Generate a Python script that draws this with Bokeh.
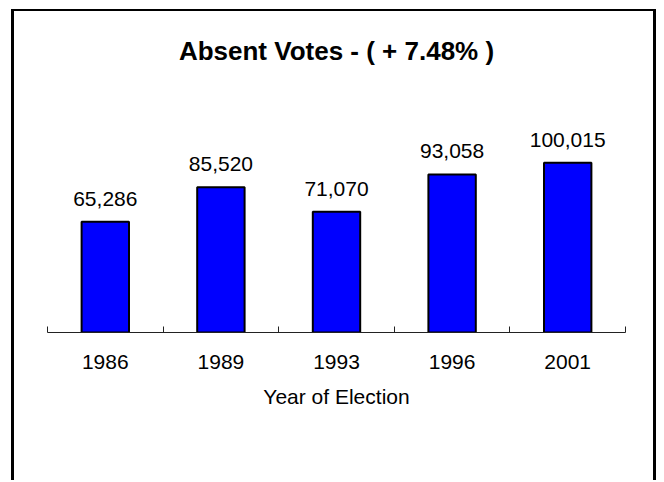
from bokeh.plotting import figure
from bokeh.models import ColumnDataSource, Range1d, FixedTicker
from bokeh.core.properties import value
from bokeh.embed import file_html
from bokeh.resources import INLINE

years = ["1986", "1989", "1993", "1996", "2001"]
votes = [65286, 85520, 71070, 93058, 100015]
title_text = "Absent Votes - ( + 7.48% )"
x_title = "Year of Election"

xs = [i + 0.5 for i in range(len(years))]
src = ColumnDataSource(dict(
    x=xs, top=votes, label=[f"{v:,}" for v in votes]))

FONT = "Liberation Sans"

p = figure(width=645, height=471, output_backend="svg", toolbar_location=None,
           x_range=Range1d(0, len(years)), y_range=Range1d(0, 154300),
           min_border_left=33, min_border_right=34, min_border_top=59,
           min_border_bottom=150, y_axis_location=None)
p.styles = {"border-top": "2px solid black", "border-left": "3px solid black",
            "border-right": "3px solid black", "margin-left": "11px",
            "margin-top": "9px"}
p.outline_line_color = None
p.grid.visible = False
p.background_fill_color = "white"
p.border_fill_color = "white"

p.title.text = title_text
p.title.text_font = FONT
p.title.text_font_size = "26px"
p.title.text_font_style = "bold"
p.title.align = "center"
p.title.text_color = "black"

p.vbar(x="x", top="top", width=0.41, bottom=0, source=src,
       fill_color="#0000FF", line_color="black", line_width=2)
p.text(x="x", y="top", text="label", source=src, y_offset=-23,
       text_align="center", text_baseline="alphabetic",
       text_font=value(FONT), text_font_size="21px", text_color="black")

ax = p.xaxis[0]
ax.ticker = FixedTicker(ticks=xs, minor_ticks=list(range(len(years) + 1)))
ax.major_label_overrides = {x: y for x, y in zip(xs, years)}
ax.major_tick_in = 0
ax.major_tick_out = 0
ax.minor_tick_in = 6
ax.minor_tick_out = 0
ax.minor_tick_line_color = "#222222"
ax.axis_line_color = "#222222"
ax.major_label_text_font = FONT
ax.major_label_text_font_size = "21px"
ax.major_label_text_color = "black"
ax.major_label_standoff = 22
ax.axis_label = x_title
ax.axis_label_text_font = FONT
ax.axis_label_text_font_size = "21px"
ax.axis_label_text_font_style = "normal"
ax.axis_label_text_color = "black"
ax.axis_label_standoff = 13

open("out.html", "w").write(file_html(p, INLINE))
